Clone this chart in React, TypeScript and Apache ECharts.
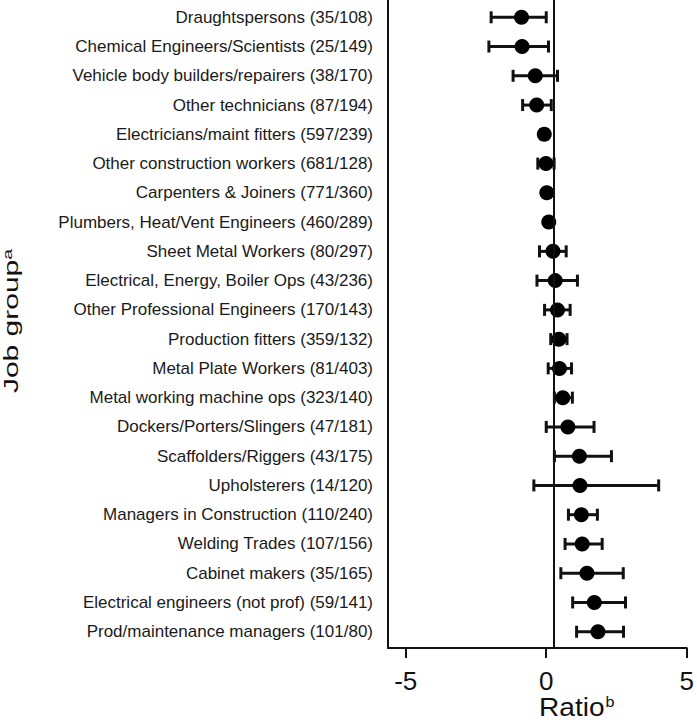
import React, { useEffect, useRef } from "react";
import * as echarts from "echarts";

const categories = [
  "Draughtspersons (35/108)",
  "Chemical Engineers/Scientists (25/149)",
  "Vehicle body builders/repairers (38/170)",
  "Other technicians (87/194)",
  "Electricians/maint fitters (597/239)",
  "Other construction workers (681/128)",
  "Carpenters & Joiners (771/360)",
  "Plumbers, Heat/Vent Engineers (460/289)",
  "Sheet Metal Workers (80/297)",
  "Electrical, Energy, Boiler Ops (43/236)",
  "Other Professional Engineers (170/143)",
  "Production fitters (359/132)",
  "Metal Plate Workers (81/403)",
  "Metal working machine ops (323/140)",
  "Dockers/Porters/Slingers (47/181)",
  "Scaffolders/Riggers (43/175)",
  "Upholsterers (14/120)",
  "Managers in Construction (110/240)",
  "Welding Trades (107/156)",
  "Cabinet makers (35/165)",
  "Electrical engineers (not prof) (59/141)",
  "Prod/maintenance managers (101/80)",
];

const estimates = [
  -0.88, -0.86, -0.39, -0.34, -0.07, -0.01, 0.02, 0.09, 0.24, 0.32, 0.4,
  0.45, 0.47, 0.59, 0.77, 1.18, 1.2, 1.25, 1.28, 1.45, 1.71, 1.84,
];
const lower = [
  -1.96, -2.04, -1.18, -0.84, -0.2, -0.3, -0.1, -0.03, -0.24, -0.33, -0.06,
  0.16, 0.07, 0.29, 0.0, 0.29, -0.44, 0.79, 0.67, 0.52, 0.94, 1.08,
];
const upper = [
  0.0, 0.08, 0.4, 0.18, 0.05, 0.28, 0.14, 0.2, 0.71, 1.11, 0.85, 0.74, 0.9,
  0.93, 1.7, 2.32, 4.0, 1.82, 1.99, 2.74, 2.82, 2.75,
];

const xTicks = [-5, 0, 5];
const referenceValue = 0.26;

export default function App() {
  const ref = useRef<HTMLDivElement>(null);

  useEffect(() => {
    if (!ref.current) return;
    const chart = echarts.init(ref.current, undefined, { renderer: "svg" });
    const rows = categories.map((_, i) => i + 1);
    const font = "'Liberation Sans', Arial, sans-serif";
    const ink = "#111";

    const option: any = {
      animation: false,
      backgroundColor: "#fff",
      grid: { left: 388, right: 9, top: 0, bottom: 72, containLabel: false },
      xAxis: {
        type: "value",
        min: -5.63,
        max: 5,
        axisLine: { show: true, onZero: false, lineStyle: { color: ink, width: 2 } },
        axisTick: { show: true, length: 10, customValues: xTicks, lineStyle: { color: ink, width: 2 } },
        axisLabel: {
          customValues: xTicks,
          margin: 20,
          fontSize: 26,
          fontFamily: font,
          color: ink,
          formatter: (v: number) => String(v),
        },
        splitLine: { show: false },
      },
      yAxis: {
        type: "value",
        inverse: true,
        min: 0.409,
        max: 22.556,
        axisLine: { show: true, onZero: false, lineStyle: { color: ink, width: 2 } },
        axisTick: { show: false },
        axisLabel: {
          customValues: rows,
          margin: 15,
          fontSize: 17,
          fontFamily: font,
          color: "#1a1a1a",
          formatter: (v: number) => {
            const idx = Math.round(v) - 1;
            return Math.abs(v - Math.round(v)) < 1e-6 && categories[idx] ? categories[idx] : "";
          },
        },
        splitLine: { show: false },
      },
      series: [
        {
          type: "custom",
          data: rows.map((r, i) => [lower[i], upper[i], r]),
          encode: { x: [0, 1], y: 2 },
          renderItem: (params: any, api: any) => {
            const lo = api.coord([api.value(0), api.value(2)]);
            const hi = api.coord([api.value(1), api.value(2)]);
            const h = 6;
            const st = { stroke: ink, lineWidth: 3 };
            return {
              type: "group",
              children: [
                { type: "line", shape: { x1: lo[0], y1: lo[1], x2: hi[0], y2: hi[1] }, style: st },
                { type: "line", shape: { x1: lo[0], y1: lo[1] - h, x2: lo[0], y2: lo[1] + h }, style: st },
                { type: "line", shape: { x1: hi[0], y1: hi[1] - h, x2: hi[0], y2: hi[1] + h }, style: st },
              ],
            };
          },
          z: 2,
        },
        {
          type: "scatter",
          data: rows.map((r, i) => [estimates[i], r]),
          symbol: "circle",
          symbolSize: 15,
          itemStyle: { color: "#000", opacity: 1 },
          z: 3,
          markLine: {
            silent: true,
            symbol: ["none", "none"],
            label: { show: false },
            lineStyle: { color: ink, width: 2, type: "solid" },
            data: [{ xAxis: referenceValue }],
          },
        },
      ],
      graphic: [
        {
          type: "text",
          x: 11,
          y: 321,
          rotation: Math.PI / 2,
          scaleX: 1.5,
          style: {
            text: "Job group{sup|a}",
            fontSize: 20,
            fontFamily: font,
            fill: ink,
            align: "center",
            verticalAlign: "middle",
            rich: {
              sup: { fontSize: 13, fontFamily: font, fill: ink, verticalAlign: "top", padding: [0, 0, 6, 0] },
            },
          },
        },
        {
          type: "text",
          x: 539,
          y: 707,
          scaleX: 1.08,
          style: {
            text: "Ratio{sup|b}",
            fontSize: 26,
            fontFamily: font,
            fill: ink,
            align: "left",
            verticalAlign: "middle",
            rich: {
              sup: { fontSize: 15, fontFamily: font, fill: ink, verticalAlign: "top", padding: [0, 0, 10, 1] },
            },
          },
        },
      ],
    };

    chart.setOption(option);
    return () => chart.dispose();
  }, []);

  return (
    <div
      ref={ref}
      style={{ position: "fixed", left: 0, top: 0, width: 697, height: 720, background: "#fff" }}
    />
  );
}
